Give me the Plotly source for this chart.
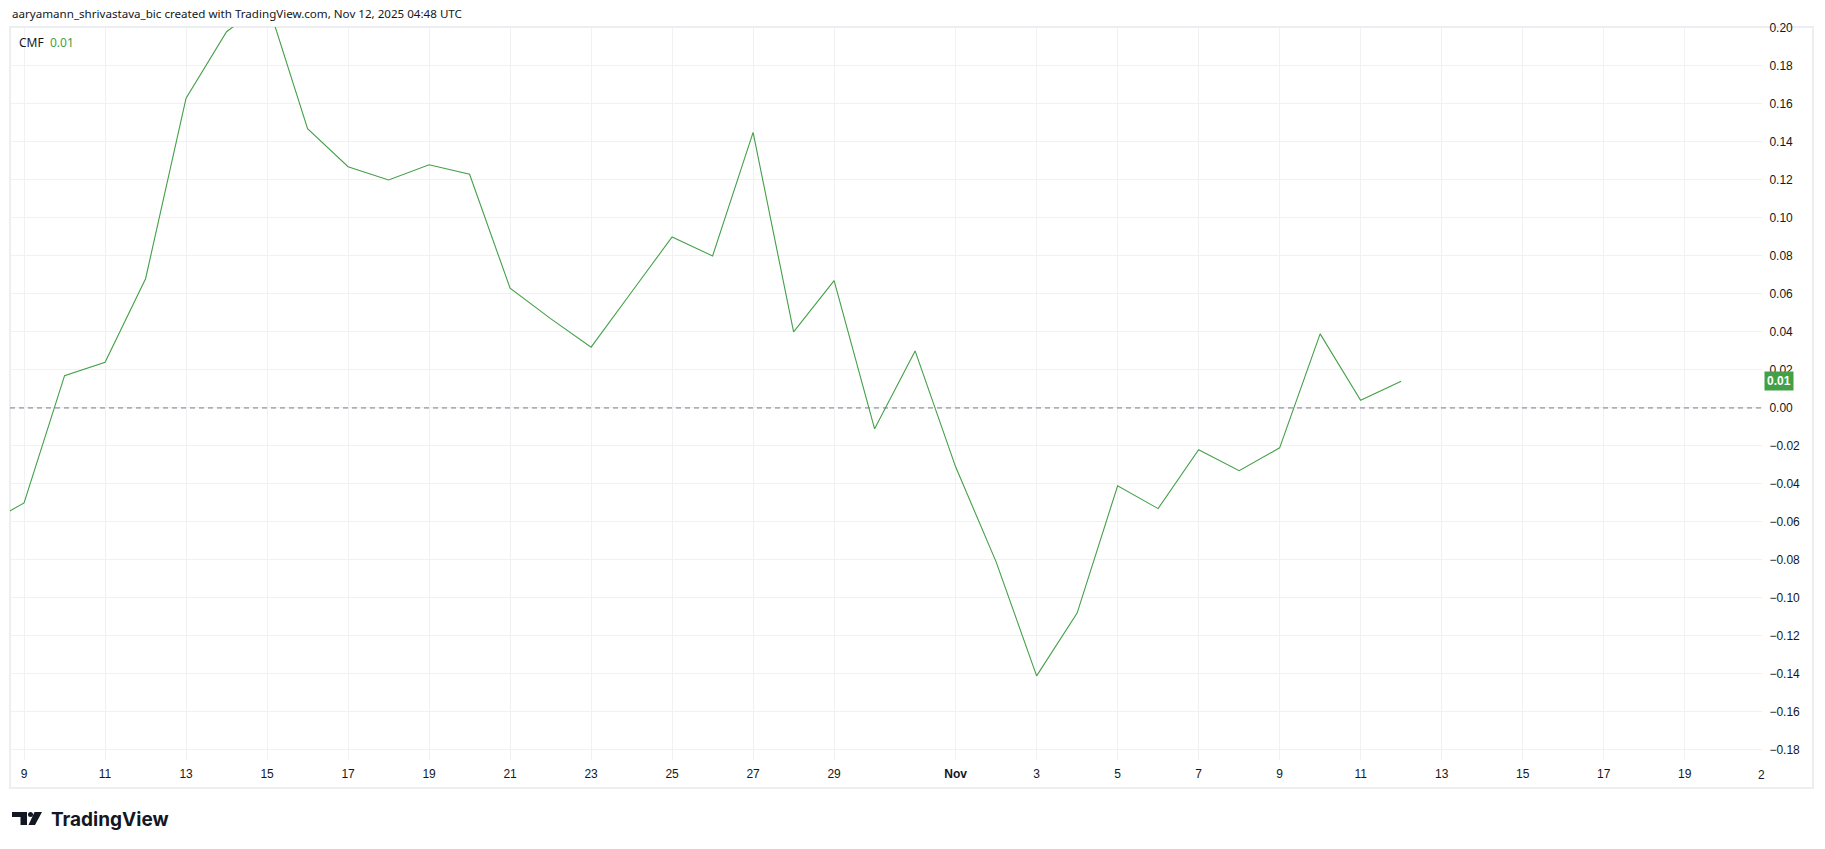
import plotly.graph_objects as go

# ---------------- data ----------------
dates = [
    "2025-10-08", "2025-10-09", "2025-10-10", "2025-10-11", "2025-10-12", "2025-10-13",
    "2025-10-14", "2025-10-15", "2025-10-16", "2025-10-17", "2025-10-18", "2025-10-19",
    "2025-10-20", "2025-10-21", "2025-10-22", "2025-10-23", "2025-10-24", "2025-10-25",
    "2025-10-26", "2025-10-27", "2025-10-28", "2025-10-29", "2025-10-30", "2025-10-31",
    "2025-11-01", "2025-11-02", "2025-11-03", "2025-11-04", "2025-11-05", "2025-11-06",
    "2025-11-07", "2025-11-08", "2025-11-09", "2025-11-10", "2025-11-11", "2025-11-12",
]
cmf = [
    -0.062, -0.050, 0.017, 0.024, 0.068, 0.163,
    0.198, 0.214, 0.147, 0.127, 0.120, 0.128,
    0.123, 0.063, 0.047, 0.032, 0.061, 0.090,
    0.080, 0.145, 0.040, 0.067, -0.011, 0.030,
    -0.031, -0.081, -0.141, -0.108, -0.041, -0.053,
    -0.022, -0.033, -0.021, 0.039, 0.004, 0.014,
]
x_tickvals = [
    "2025-10-09", "2025-10-11", "2025-10-13", "2025-10-15", "2025-10-17", "2025-10-19",
    "2025-10-21", "2025-10-23", "2025-10-25", "2025-10-27", "2025-10-29", "2025-11-01",
    "2025-11-03", "2025-11-05", "2025-11-07", "2025-11-09", "2025-11-11", "2025-11-13",
    "2025-11-15", "2025-11-17", "2025-11-19",
]
x_ticktext = [
    "9", "11", "13", "15", "17", "19", "21", "23", "25", "27", "29", "<b>Nov</b>",
    "3", "5", "7", "9", "11", "13", "15", "17", "19",
]
y_tickvals = [-0.18, -0.16, -0.14, -0.12, -0.10, -0.08, -0.06, -0.04, -0.02, 0.0,
              0.02, 0.04, 0.06, 0.08, 0.10, 0.12, 0.14, 0.16, 0.18, 0.20]
title_text = "aaryamann_shrivastava_bic created with TradingView.com, Nov 12, 2025 04:48 UTC"
indicator_name = "CMF"
last_label = "0.01"

# ---------------- layout geometry ----------------
W, H = 1825, 849
L, R, T, B = 10, 1762, 27, 760  # plot area in px
GREEN = "#43a047"
GRID = "#f0f1f4"
TEXT = "#131722"


def px(x):
    return (x - L) / (R - L)


def py(y):
    return (B - y) / (B - T)


fig = go.Figure()
fig.add_trace(go.Scatter(
    x=dates, y=cmf, mode="lines",
    line=dict(color=GREEN, width=1.1),
    hoverinfo="skip", showlegend=False,
))

fig.update_layout(
    width=W, height=H,
    margin=dict(l=L, r=W - R, t=T, b=H - B, pad=0),
    paper_bgcolor="white", plot_bgcolor="white",
    font=dict(family="Liberation Sans, Arial, sans-serif", size=12, color=TEXT),
    xaxis=dict(
        type="date",
        range=["2025-10-08 15:40", "2025-11-20 21:50"],
        tickmode="array", tickvals=x_tickvals, ticktext=x_ticktext,
        showgrid=True, gridcolor=GRID, gridwidth=1,
        zeroline=False, showline=False,
        ticks="outside", ticklen=3, tickcolor="rgba(0,0,0,0)",
        tickfont=dict(size=12, color=TEXT),
        fixedrange=True,
    ),
    yaxis=dict(
        side="right",
        range=[-0.1853, 0.2005],
        tickmode="array", tickvals=y_tickvals,
        tickformat=".2f",
        showgrid=True, gridcolor=GRID, gridwidth=1,
        zeroline=False, showline=False,
        ticks="outside", ticklen=4, tickcolor="rgba(0,0,0,0)",
        tickfont=dict(size=12, color=TEXT),
        fixedrange=True,
    ),
)

shapes = []
# dashed zero line
shapes.append(dict(type="line", xref="paper", yref="y", x0=0, x1=1, y0=0, y1=0,
                   line=dict(color="#787b86", width=1, dash="5px,4px")))
# panel border
shapes.append(dict(type="rect", xref="paper", yref="paper",
                   x0=px(10), x1=px(1813), y0=py(27), y1=py(788),
                   line=dict(color="#eceef2", width=2), fillcolor="rgba(0,0,0,0)",
                   layer="below"))
# TradingView logo icon
shapes.append(dict(type="rect", xref="paper", yref="paper",
                   x0=px(12), x1=px(27), y0=py(812), y1=py(817),
                   line=dict(width=0), fillcolor="#131722"))
shapes.append(dict(type="rect", xref="paper", yref="paper",
                   x0=px(20.5), x1=px(27), y0=py(812), y1=py(825),
                   line=dict(width=0), fillcolor="#131722"))
shapes.append(dict(type="circle", xref="paper", yref="paper",
                   x0=px(28), x1=px(33), y0=py(812), y1=py(817),
                   line=dict(width=0), fillcolor="#131722"))
x0p, x1p, x2p, x3p = px(34.5), px(42), px(35), px(28.5)
y0p, y1p = py(812), py(825)
shapes.append(dict(type="path", xref="paper", yref="paper",
                   path=f"M {x0p},{y0p} L {x1p},{y0p} L {x2p},{y1p} L {x3p},{y1p} Z",
                   line=dict(width=0), fillcolor="#131722"))
fig.update_layout(shapes=shapes)

annotations = [
    dict(xref="paper", yref="paper", x=px(10), y=py(14), xanchor="left", yanchor="middle",
         text=title_text, showarrow=False,
         font=dict(family="Noto Sans, sans-serif", size=11.6, color=TEXT)),
    dict(xref="paper", yref="paper", x=px(17), y=py(42), xanchor="left", yanchor="middle",
         text=f"{indicator_name}  <span style='color:{GREEN}'>{last_label}</span>",
         showarrow=False,
         font=dict(family="Noto Sans, sans-serif", size=12, color=TEXT)),
    dict(xref="paper", yref="y", x=px(1764), y=cmf[-1], xanchor="left", yanchor="middle",
         text=f"<b>{last_label}</b>", showarrow=False,
         bgcolor=GREEN, borderpad=2, font=dict(size=12, color="white")),
    dict(xref="paper", yref="paper", x=px(1767), y=py(775), xanchor="right", yanchor="middle",
         text="2", showarrow=False, font=dict(size=12, color=TEXT)),
    dict(xref="paper", yref="paper", x=px(49), y=py(819), xanchor="left", yanchor="middle",
         text="<b>TradingView</b>", showarrow=False,
         font=dict(family="Inter, Lato, sans-serif", size=19, color="#131722")),
]
fig.update_layout(annotations=annotations)

fig.write_html(
    "out.html",
    config={"displayModeBar": False},
    post_script="document.body.style.margin='0';document.body.style.overflow='hidden';",
)
